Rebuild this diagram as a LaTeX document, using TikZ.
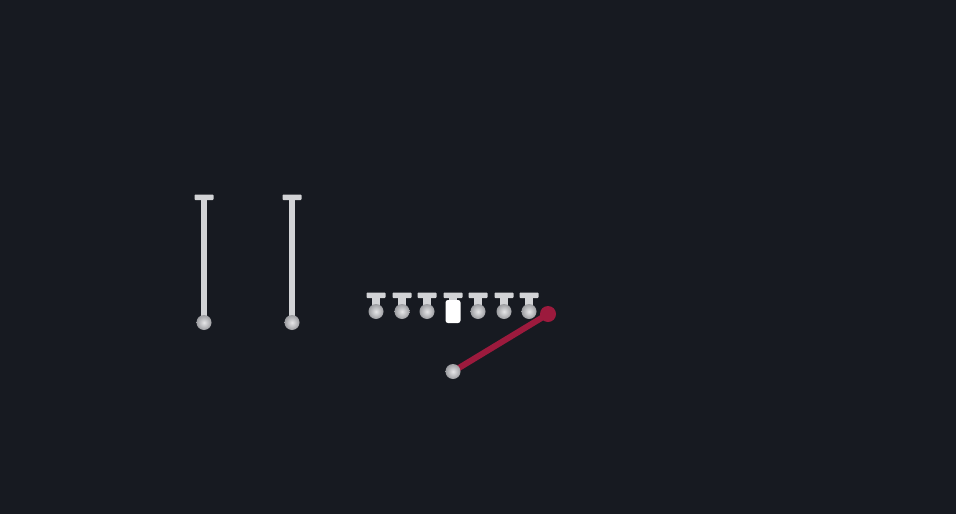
\documentclass[tikz,border=0pt]{standalone}
\usetikzlibrary{positioning}
\definecolor{bgdark}{HTML}{171A21}
\definecolor{pinwhite}{HTML}{D2D3D6}
\definecolor{ballgray}{HTML}{9C9DA1}
\definecolor{balllight}{HTML}{E6E6E8}
\definecolor{cuered}{HTML}{9C1A3D}

\begin{document}
\begin{tikzpicture}[x=1pt,y=-1pt]
		\tikzstyle{ball}=[circle,inner sep=0pt,minimum size=15pt,inner color=balllight,outer color=ballgray]
		\tikzstyle{pinbar}=[fill=pinwhite,rounded corners=0.8pt]
		\tikzstyle{cueline}=[draw=cuered,line width=6pt]
		\fill [bgdark] (0,0) rectangle (956,514);
		% long pins
		\foreach \px/\nm in {204/lp1,292/lp2} {
			\fill [pinbar] (\px-9.5,194.5) rectangle (\px+9.5,200);
			\fill [pinwhite] (\px-3,199) rectangle (\px+3,318);
			\node [ball] (\nm) at (\px,322.5) {};
		}
		% row of small pins
		\foreach \px/\nm in {376/sp1,402/sp2,427/sp3,478/sp5,504/sp6,529/sp7} {
			\fill [pinbar] (\px-9.5,292.5) rectangle (\px+9.5,298);
			\fill [pinwhite] (\px-4,297) rectangle (\px+4,307);
			\node [ball] (\nm) at (\px,311.5) {};
		}
		\fill [pinbar] (443.5,292.5) rectangle (462.5,298);
		\fill [pinwhite] (449,297) rectangle (457,302);
		\node [fill=white,rounded corners=2.5pt,minimum width=15pt,minimum height=23pt,inner sep=0pt] (sp4) at (453,311.5) {};
		% cue
		\coordinate (cuetip) at (548,314);
		\coordinate (cuebase) at (453,371.5);
		\draw [cueline] (cuebase) -- (cuetip);
		\node [circle,fill=cuered,inner sep=0pt,minimum size=16pt] (tip) at (cuetip) {};
		\node [ball] (cueball) at (cuebase) {};
\end{tikzpicture}
\end{document}
